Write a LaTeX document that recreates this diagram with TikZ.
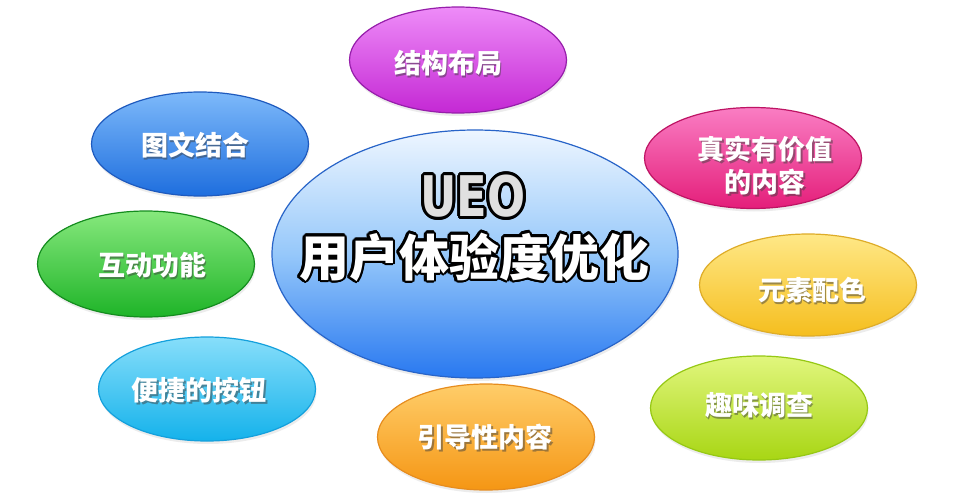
\documentclass[tikz,border=0pt]{standalone}
\usepackage{fontspec}
\newfontfamily\cjk{Noto Sans CJK SC}
\newfontfamily\ueofont{DejaVu Sans}
\usetikzlibrary{shapes.geometric,shadows,calc}
\definecolor{pT}{RGB}{238,140,248}\definecolor{pB}{RGB}{196,40,212}\definecolor{pD}{RGB}{150,30,170}
\definecolor{bT}{RGB}{125,185,250}\definecolor{bB}{RGB}{30,110,222}\definecolor{bD}{RGB}{30,90,190}
\definecolor{kT}{RGB}{250,125,195}\definecolor{kB}{RGB}{228,30,122}\definecolor{kD}{RGB}{190,20,100}
\definecolor{gT}{RGB}{135,232,125}\definecolor{gB}{RGB}{30,180,40}\definecolor{gD}{RGB}{20,140,30}
\definecolor{yT}{RGB}{255,232,135}\definecolor{yB}{RGB}{245,190,30}\definecolor{yD}{RGB}{222,172,40}
\definecolor{cT}{RGB}{135,222,250}\definecolor{cB}{RGB}{20,178,235}\definecolor{cD}{RGB}{20,160,220}
\definecolor{oT}{RGB}{255,205,105}\definecolor{oB}{RGB}{245,150,20}\definecolor{oD}{RGB}{230,140,30}
\definecolor{lT}{RGB}{225,246,125}\definecolor{lB}{RGB}{168,214,20}\definecolor{lD}{RGB}{150,200,20}
\definecolor{zT}{RGB}{238,246,255}\definecolor{zM}{RGB}{150,200,250}\definecolor{zB}{RGB}{40,120,240}\definecolor{zD}{RGB}{40,100,200}
\newcommand{\shlab}[3]{%
  \node[lbl, text=black!75, opacity=0.5] at ($(#1)+(1.6,1.8)$) {#2};
  \node[lbl, text=white] (#3) at (#1) {#2};}
\begin{document}
\begin{tikzpicture}[x=1pt,y=-1pt,
  bub/.style={ellipse, draw, line width=1.2pt, minimum width=217pt, minimum height=104pt, inner sep=0pt,
    drop shadow={shadow xshift=1pt, shadow yshift=-3pt, opacity=0.15}},
  lbl/.style={font=\cjk\bfseries\fontsize{27}{33}\selectfont, inner sep=0pt, align=center},
  big/.style={font=\cjk\bfseries\fontsize{50}{56}\selectfont, inner sep=0pt},
  ueo/.style={font=\ueofont\bfseries\fontsize{56}{60}\selectfont, inner sep=0pt, xscale=0.8},
]
\fill[white] (0,0) rectangle (958,500);
\useasboundingbox (0,0) rectangle (958,500);

\node[bub, minimum width=406pt, minimum height=248pt, draw=zD, top color=zT, bottom color=zB, middle color=zM] (center) at (475,254) {};

\node[bub, draw=pD, top color=pT, bottom color=pB, minimum height=106pt] (p) at (458,60) {};
\node[bub, draw=bD, top color=bT, bottom color=bB] (b) at (200,144) {};
\node[bub, draw=kD, top color=kT, bottom color=kB, minimum height=101pt] (k) at (753,158) {};
\node[bub, draw=gD, top color=gT, bottom color=gB, minimum height=106pt] (g) at (146,264) {};
\node[bub, draw=yD, top color=yT, bottom color=yB, minimum height=102pt] (y) at (808,285) {};
\node[bub, draw=cD, top color=cT, bottom color=cB] (c) at (207,389) {};
\node[bub, draw=oD, top color=oT, bottom color=oB, minimum height=106pt] (o) at (486,437) {};
\node[bub, draw=lD, top color=lT, bottom color=lB] (l) at (759,408) {};

\coordinate (pt) at (448,63);
\coordinate (bt) at (195,145);
\coordinate (kt) at (765,166);
\coordinate (gt) at (152,265);
\coordinate (yt) at (812,290);
\coordinate (ct) at (199,390);
\coordinate (ot) at (485,437);
\coordinate (lt) at (759,405);
\shlab{pt}{结构布局}{pl}
\shlab{bt}{图文结合}{bl}
\shlab{kt}{真实有价值\\的内容}{kl}
\shlab{gt}{互动功能}{gl}
\shlab{yt}{元素配色}{yl}
\shlab{ct}{便捷的按钮}{cl}
\shlab{ot}{引导性内容}{ol}
\shlab{lt}{趣味调查}{ll}

\coordinate (mt) at (474,257);
\coordinate (ut) at (473,196);
\foreach \a in {0,22.5,...,359} {
  \node[big, text=black] at ($(mt)+(\a:2.4)$) {用户体验度优化};
  \node[ueo, text=black] at ($(ut)+(\a:3)$) {UEO};
}
\node[big, text=white] (mainlabel) at (mt) {用户体验度优化};
\node[ueo, text=white!88!black] (ueolabel) at (ut) {UEO};
\end{tikzpicture}
\end{document}
